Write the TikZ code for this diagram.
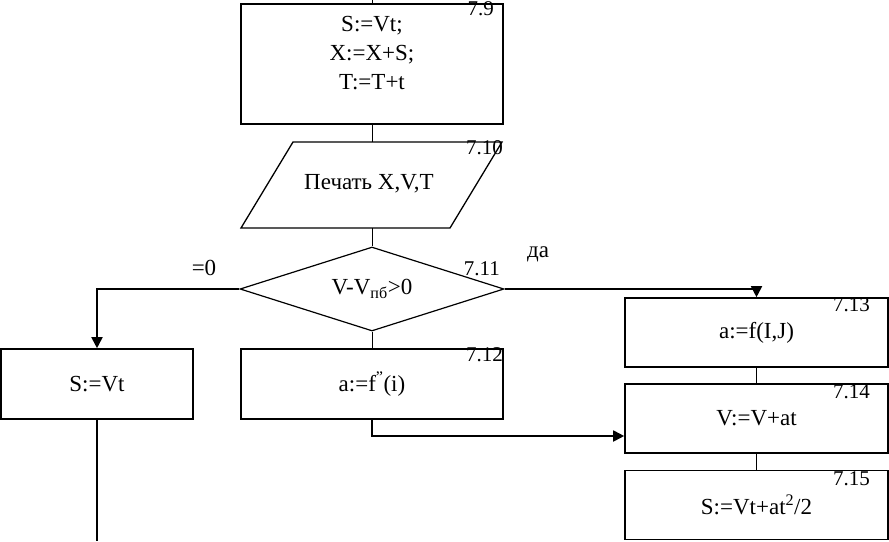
\documentclass[tikz,border=0pt]{standalone}
\usepackage{fontspec}
\setmainfont{Liberation Serif}
\usetikzlibrary{shapes.geometric,arrows.meta}
\begin{document}
\begin{tikzpicture}[x=1pt,y=-1pt,
  box/.style={draw,line width=1.6pt,inner sep=0pt,align=center,font=\fontsize{23}{29}\selectfont},
  thinline/.style={line width=0.9pt},
  flow/.style={line width=1.8pt},
  flowarrow/.style={line width=1.8pt,-{Triangle[length=11pt,width=11pt]}},
  num/.style={inner sep=0pt,anchor=north east,font=\fontsize{21}{25}\selectfont},
  lbl/.style={inner sep=0pt,font=\fontsize{23}{27}\selectfont}]
\useasboundingbox (0,0) rectangle (889,541);

% 7.9
\node[box,minimum width=262pt,minimum height=120pt] (b79) at (372,64)
  {S:=Vt;\\X:=X+S;\\T:=T+t\\[-7pt]\mbox{}};
\node[num] (n79) at (494,1) {7.9};
\coordinate (top) at (372,0);

% 7.10 parallelogram
\coordinate (ptop) at (372,142);
\coordinate (pbot) at (372,228);
\draw[line width=1.3pt,line join=miter] (241,228) -- (293,142) -- (502,142) -- (450,228) -- cycle;
\node[lbl] (p) at (369,184) {Печать X,V,T};
\node[num] (n710) at (503,140) {7.10};

% 7.11 diamond
\node[draw,diamond,aspect=3.14,minimum width=264pt,minimum height=84pt,inner sep=0pt,
  line width=1.2pt,font=\fontsize{23}{27}\selectfont] (d) at (372,289) {V-V\textsubscript{пб}>0};
\node[num] (n711) at (500,261) {7.11};
\node[lbl] (z) at (204,268) {=0};
\node[lbl] (da) at (538,254) {да};

% left branch
\node[box,minimum width=192pt,minimum height=70pt] (svt) at (97,384) {S:=Vt};
\coordinate (lbot) at (97,541);

% 7.12
\node[box,minimum width=262pt,minimum height=70pt] (b712) at (372,384) {a:=f\textsuperscript{”}(i)};
\node[num] (n712) at (503,347) {7.12};

% right column
\node[box,minimum width=263pt,minimum height=69pt] (b713) at (756.5,332.5) {a:=f(I,J)};
\node[num] (n713) at (870,297) {7.13};
\node[box,minimum width=263pt,minimum height=69pt] (b714) at (756.5,418.5) {V:=V+at};
\node[num] (n714) at (870,384) {7.14};
\node[box,minimum width=263pt,minimum height=69pt] (b715) at (756.5,505) {S:=Vt+at\textsuperscript{2}/2};
\node[num] (n715) at (870,471) {7.15};

% connectors
\draw[thinline] (top) -- (b79.north);
\draw[thinline] (b79.south) -- (ptop);
\draw[thinline] (pbot) -- (d.north);
\draw[thinline] (d.south) -- (b712.north);
\draw[flowarrow] (d.west) -| (svt.north);
\draw[flow] (svt.south) -- (lbot);
\draw[flowarrow] (d.east) -| (b713.north);
\draw[flowarrow] (b712.south) |- ([yshift=-17.5pt]b714.west);
\draw[thinline] (b713.south) -- (b714.north);
\draw[thinline] (b714.south) -- (b715.north);
\end{tikzpicture}
\end{document}
